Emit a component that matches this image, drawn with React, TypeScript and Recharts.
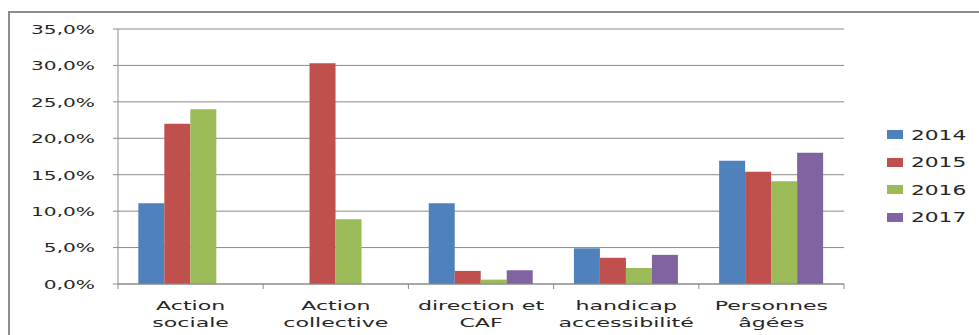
import React from 'react';
import { BarChart, Bar, XAxis, YAxis, CartesianGrid } from 'recharts';

const categories = ['Action\nsociale', 'Action\ncollective', 'direction et\nCAF', 'handicap\naccessibilité', 'Personnes\nâgées'];
const s2014 = [11.1, null, 11.1, 4.9, 16.9];
const s2015 = [22.0, 30.3, 1.8, 3.6, 15.4];
const s2016 = [24.0, 8.9, 0.6, 2.2, 14.1];
const s2017 = [null, null, 1.9, 4.0, 18.0];
const years = ['2014', '2015', '2016', '2017'];
const colors = ['#4F81BD', '#C0504D', '#9BBB59', '#8064A2'];
const yTicks = [0, 5, 10, 15, 20, 25, 30, 35];

const data = categories.map((c, i) => ({
  cat: c,
  '2014': s2014[i],
  '2015': s2015[i],
  '2016': s2016[i],
  '2017': s2017[i],
}));

const W = 979;
const H = 335;
const M = { top: 29, right: 135, left: 0, bottom: 0 };
const Y_W = 118;
const X_H = 51;
const BAND = (W - Y_W - M.right) / categories.length;
const FONT = 'DejaVu Sans, Verdana, sans-serif';
const TXT = '#262626';
const AX = '#8a8a8a';

const fmt = (v: number) => v.toFixed(1).replace('.', ',') + '%';

const YTick = (props: any) => {
  const { x, y, payload } = props;
  return (
    <g transform={`translate(${x},${y})`}>
      <text x={0} y={0} dy={4.8} textAnchor="end" transform="scale(1.55,1)" fontSize={13} fontFamily={FONT} fill={TXT}>
        {fmt(payload.value)}
      </text>
    </g>
  );
};

const XTick = (props: any) => {
  const { x, y, payload, index } = props;
  const lines = String(payload.value).split('\n');
  return (
    <g>
      {index === 0 && <line x1={x - BAND / 2} x2={x - BAND / 2} y1={y} y2={y + 5} stroke={AX} />}
      <line x1={x + BAND / 2} x2={x + BAND / 2} y1={y} y2={y + 5} stroke={AX} />
      <g transform={`translate(${x},${y})`}>
        {lines.map((l, i) => (
          <text key={i} x={0} y={26 + i * 17} textAnchor="middle" transform="scale(1.7,1)" fontSize={13} fontFamily={FONT} fill={TXT}>
            {l}
          </text>
        ))}
      </g>
    </g>
  );
};

const LegendBox = () => (
  <div style={{ position: 'absolute', left: 887, top: 121, width: 90, fontFamily: FONT }}>
    {years.map((yr, i) => (
      <div key={yr} style={{ position: 'relative', height: 27.5, display: 'flex', alignItems: 'center' }}>
        <div style={{ width: 16, height: 9, background: colors[i] }} />
        <div style={{ marginLeft: 8, fontSize: 14, color: TXT, transform: 'scaleX(1.55)', transformOrigin: 'left center', lineHeight: '14px' }}>
          {yr}
        </div>
      </div>
    ))}
  </div>
);

export default function App() {
  return (
    <div style={{ position: 'absolute', left: 0, top: 0, width: W, height: H, overflow: 'hidden', background: '#fff' }}>
      <div style={{ position: 'absolute', left: 8, top: 11, width: 2000, height: 2000, borderLeft: '2px solid #8c8c8c', borderTop: '2px solid #8c8c8c' }} />
      <div style={{ position: 'absolute', left: 0, top: 0 }}>
        <BarChart width={W} height={H} data={data} margin={M} barCategoryGap="14%" barGap={0}>
          <CartesianGrid vertical={false} stroke={AX} strokeWidth={1} />
          <XAxis
            dataKey="cat"
            height={X_H}
            interval={0}
            tickLine={false}
            tickSize={0}
            tickMargin={0}
            axisLine={{ stroke: AX }}
            tick={<XTick />}
          />
          <YAxis
            width={Y_W}
            domain={[0, 35]}
            ticks={yTicks}
            interval={0}
            tickSize={5}
            tickMargin={18}
            axisLine={{ stroke: AX }}
            tickLine={{ stroke: AX }}
            tick={<YTick />}
          />
          {years.map((yr, i) => (
            <Bar key={yr} dataKey={yr} fill={colors[i]} isAnimationActive={false} />
          ))}
        </BarChart>
      </div>
      <LegendBox />
    </div>
  );
}
